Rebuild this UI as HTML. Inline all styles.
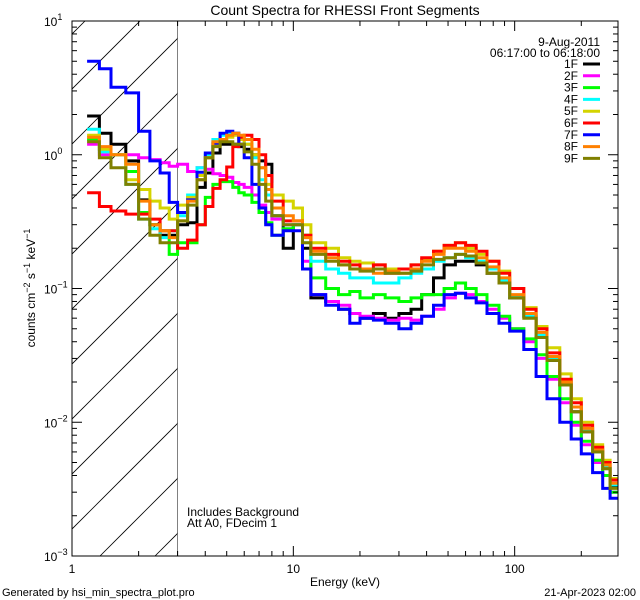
<!DOCTYPE html>
<html><head><meta charset="utf-8"><style>
html,body{margin:0;padding:0;background:#fff;}
svg{display:block;font-family:"Liberation Sans",sans-serif;}
</style></head><body>
<svg id="chart" width="640" height="600" viewBox="0 0 640 600" xmlns="http://www.w3.org/2000/svg">
<rect x="0" y="0" width="640" height="600" fill="#fff"/>
<text x="345" y="15" font-size="14" text-anchor="middle">Count Spectra for RHESSI Front Segments</text>
<g id="hatch"></g>
<g id="series"></g>
<g id="axes"></g>
<text x="600" y="46" font-size="12" text-anchor="end">9-Aug-2011</text>
<text x="600" y="57" font-size="12" text-anchor="end">06:17:00 to 06:18:00</text>
<g id="legend"></g>
<text x="187" y="516" font-size="12">Includes Background</text>
<text x="187" y="527" font-size="12">Att A0, FDecim 1</text>
<text x="345" y="586" font-size="12" text-anchor="middle">Energy (keV)</text>
<text transform="translate(35,288) rotate(-90)" font-size="12" text-anchor="middle">counts cm<tspan dy="-5" font-size="9">−2</tspan><tspan dy="5"> s</tspan><tspan dy="-5" font-size="9">−1</tspan><tspan dy="5"> keV</tspan><tspan dy="-5" font-size="9">−1</tspan></text>
<text x="2" y="596" font-size="11">Generated by hsi_min_spectra_plot.pro</text>
<text x="636" y="596" font-size="11" text-anchor="end">21-Apr-2023 02:00</text>
</svg>
<script>
const binEdges = [1.17,1.33,1.5,1.75,2.0,2.25,2.5,2.75,3.0,3.33,3.67,4.0,4.33,4.67,5.0,5.33,5.67,6.0,6.5,7.0,7.5,8.0,9.0,10,11,12,14,16,18,20,23,26,30,34,38,43,48,54,60,67,75,85,95,110,125,140,160,180,200,225,250,270,293];
const seriesNames = ["1F","2F","3F","4F","5F","6F","7F","8F","9F"];
const seriesColors = ["#000000","#ff00ff","#00ff00","#00ffff","#d4d400","#ff0000","#0000ff","#ff8000","#808000"];
const s1F = [1.95,1.45,1.2,0.9,0.46,0.3,0.25,0.25,0.3,0.31,0.57,0.73,1.03,1.2,1.2,1.2,1.15,1.1,1.0,0.9,0.85,0.35,0.2,0.3,0.2,0.085,0.08,0.07,0.065,0.06,0.065,0.06,0.065,0.07,0.09,0.12,0.15,0.16,0.16,0.15,0.13,0.11,0.085,0.062,0.044,0.029,0.019,0.012,0.0085,0.006,0.0045,0.0033];
const s2F = [1.2,1.0,1.0,1.0,0.95,0.92,0.87,0.82,0.85,0.75,0.8,0.78,0.72,0.7,0.68,0.62,0.6,0.57,0.5,0.42,0.37,0.33,0.3,0.3,0.16,0.09,0.08,0.075,0.065,0.062,0.06,0.058,0.06,0.058,0.062,0.07,0.085,0.092,0.09,0.08,0.07,0.06,0.05,0.04,0.03,0.021,0.014,0.0095,0.0068,0.005,0.004,0.003];
const s3F = [1.3,1.1,1.0,0.75,0.37,0.3,0.27,0.18,0.22,0.22,0.3,0.48,0.6,0.63,0.63,0.57,0.52,0.5,0.44,0.37,0.31,0.25,0.28,0.3,0.25,0.12,0.1,0.09,0.095,0.085,0.09,0.085,0.08,0.085,0.09,0.09,0.1,0.11,0.1,0.09,0.075,0.062,0.05,0.042,0.032,0.022,0.015,0.01,0.0072,0.0052,0.004,0.003];
const s4F = [1.55,1.05,1.0,0.6,0.33,0.28,0.24,0.27,0.35,0.5,0.8,1.0,1.3,1.4,1.45,1.45,1.35,1.2,0.95,0.65,0.5,0.35,0.3,0.3,0.22,0.16,0.14,0.13,0.12,0.12,0.11,0.11,0.12,0.13,0.14,0.16,0.17,0.18,0.17,0.16,0.14,0.115,0.088,0.063,0.045,0.03,0.02,0.013,0.0088,0.006,0.0046,0.0034];
const s5F = [1.4,1.1,1.0,0.65,0.55,0.45,0.4,0.33,0.42,0.48,0.7,0.95,1.2,1.3,1.35,1.4,1.3,1.2,1.0,0.8,0.6,0.5,0.45,0.4,0.3,0.22,0.2,0.17,0.16,0.155,0.15,0.14,0.14,0.15,0.165,0.19,0.21,0.22,0.2,0.18,0.16,0.135,0.1,0.072,0.052,0.036,0.023,0.015,0.01,0.0068,0.0052,0.0038];
const s6F = [0.52,0.41,0.38,0.36,0.36,0.33,0.27,0.27,0.2,0.23,0.3,0.41,0.56,0.65,0.81,1.15,1.35,1.4,1.3,1.0,0.7,0.45,0.32,0.32,0.25,0.2,0.18,0.16,0.15,0.14,0.15,0.13,0.14,0.15,0.17,0.19,0.21,0.22,0.21,0.19,0.16,0.13,0.1,0.07,0.05,0.033,0.021,0.014,0.0095,0.0065,0.005,0.0037];
const s7F = [5.0,4.4,3.2,2.9,1.5,0.9,0.73,0.44,0.37,0.46,0.74,1.03,1.22,1.45,1.5,1.45,1.2,0.95,0.6,0.4,0.3,0.25,0.27,0.27,0.14,0.09,0.075,0.07,0.055,0.06,0.058,0.055,0.05,0.055,0.062,0.075,0.09,0.092,0.085,0.078,0.065,0.055,0.048,0.035,0.022,0.015,0.01,0.0075,0.0058,0.0042,0.0032,0.0027];
const s8F = [1.35,1.15,1.0,0.85,0.45,0.3,0.27,0.24,0.32,0.45,0.65,0.95,1.25,1.3,1.4,1.45,1.4,1.3,1.1,0.8,0.55,0.4,0.35,0.32,0.24,0.19,0.17,0.15,0.14,0.14,0.13,0.135,0.13,0.14,0.16,0.18,0.2,0.2,0.19,0.17,0.145,0.12,0.09,0.065,0.047,0.031,0.02,0.013,0.009,0.0062,0.0048,0.0035];
const s9F = [1.25,0.95,0.8,0.6,0.33,0.25,0.22,0.22,0.32,0.42,0.65,0.95,1.15,1.25,1.25,1.2,1.2,1.05,0.85,0.6,0.45,0.35,0.3,0.3,0.22,0.18,0.16,0.15,0.14,0.135,0.14,0.13,0.13,0.135,0.15,0.165,0.17,0.18,0.175,0.155,0.13,0.11,0.085,0.06,0.043,0.029,0.019,0.012,0.0085,0.006,0.0045,0.0032];
const allSeries = [s1F,s2F,s3F,s4F,s5F,s6F,s7F,s8F,s9F];
const xTickLabels = ["1","10","100"];
const yTickLabels = ["10","10","10","10","10"];
const yTickExps = ["1","0","−1","−2","−3"];

const NS="http://www.w3.org/2000/svg";
const L=72,R=618,T=21,B=556,XMIN=1,XMAX=293,YMIN=1e-3,YMAX=10;
function xs(e){return L+(Math.log10(e)-Math.log10(XMIN))/(Math.log10(XMAX)-Math.log10(XMIN))*(R-L);}
function ys(v){return B-(Math.log10(v)-Math.log10(YMIN))/(Math.log10(YMAX)-Math.log10(YMIN))*(B-T);}
function mk(tag,attrs,parent){const e=document.createElementNS(NS,tag);for(const k in attrs)e.setAttribute(k,attrs[k]);parent.appendChild(e);return e;}

// hatch
const hg=document.getElementById('hatch');
const clip=mk('clipPath',{id:'hc'},document.getElementById('chart'));
mk('rect',{x:L,y:T,width:xs(3)-L,height:B-T},clip);
hg.setAttribute('clip-path','url(#hc)');
for(let k=-2;k<14;k++){const c=656-55*k;
 const ln=mk('line',{x1:c-B,y1:B,x2:c-T,y2:T,stroke:'#000','stroke-width':0.8},hg);
 
 }
const vl=mk('line',{x1:xs(3),y1:T,x2:xs(3),y2:B,stroke:'#000','stroke-width':1},hg);



// series
const sg=document.getElementById('series');
allSeries.forEach((vals,i)=>{
 let d='';
 vals.forEach((v,j)=>{const x0=xs(binEdges[j]),x1=xs(binEdges[j+1]),y=ys(v);
  d+=(j===0?'M':'L')+x0.toFixed(1)+','+y.toFixed(1)+'L'+x1.toFixed(1)+','+y.toFixed(1);});
 const p=mk('path',{d:d,fill:'none',stroke:seriesColors[i],'stroke-width':3,'stroke-linejoin':'miter'},sg);
 
 
});

// axes
const ag=document.getElementById('axes');
const fr=mk('rect',{x:L,y:T,width:R-L,height:B-T,fill:'none',stroke:'#000','stroke-width':1},ag);


for(let dec=0;dec<3;dec++){for(let m=1;m<10;m++){const e=m*Math.pow(10,dec);if(e>XMAX)break;
 const x=xs(e),len=m===1?10:5;
 const t1=mk('line',{x1:x,y1:B,x2:x,y2:B-len,stroke:'#000'},ag);
 
 
 const t2=mk('line',{x1:x,y1:T,x2:x,y2:T+len,stroke:'#000'},ag);
 
 
 if(m===1){const tl=mk('text',{x:x,y:B+17,'font-size':12,'text-anchor':'middle'},ag);tl.textContent=xTickLabels[dec];
  
  }
}}
for(let dec=-3;dec<=1;dec++){for(let m=1;m<10;m++){const v=m*Math.pow(10,dec);if(v>YMAX)break;
 const y=ys(v),len=m===1?10:5;
 const t1=mk('line',{x1:L,y1:y,x2:L+len,y2:y,stroke:'#000'},ag);
 
 
 const t2=mk('line',{x1:R,y1:y,x2:R-len,y2:y,stroke:'#000'},ag);
 
 
 if(m===1){const idx=1-dec;const tl=mk('text',{x:L-5,y:y+5,'font-size':12,'text-anchor':'end'},ag);
  
  
  const a=document.createElementNS(NS,'tspan');a.textContent=yTickLabels[idx];tl.appendChild(a);
  const b=document.createElementNS(NS,'tspan');b.setAttribute('dy','-6');b.setAttribute('font-size','9');b.textContent=yTickExps[idx];tl.appendChild(b);
  tl.removeAttribute('text-anchor');tl.setAttribute('x',L-28);}
}}

// legend
const lg=document.getElementById('legend');
seriesNames.forEach((n,i)=>{const y=64+i*11.8;
 const t=mk('text',{x:578,y:y+4,'font-size':12,'text-anchor':'end'},lg);t.textContent=n;
 
 
 const l=mk('line',{x1:583,y1:y,x2:600,y2:y,stroke:seriesColors[i],'stroke-width':3},lg);
 
 
});
</script>
</body></html>
